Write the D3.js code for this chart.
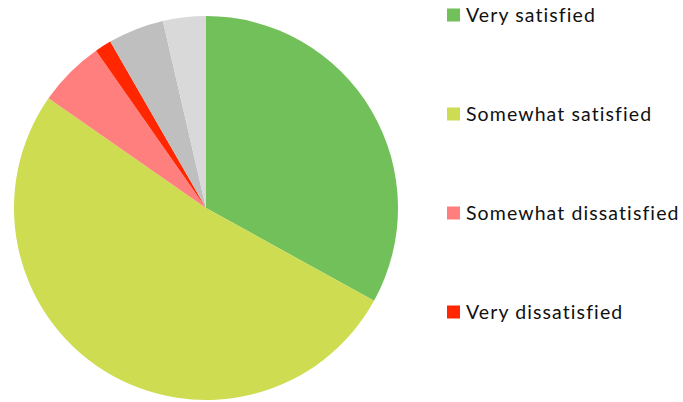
<!DOCTYPE html>
<html>
<head>
<meta charset="utf-8">
<script src="https://cdn.jsdelivr.net/npm/d3@7"></script>
<style>
  html, body { margin: 0; padding: 0; background: #fff; }
  svg { display: block; }
</style>
</head>
<body>
<svg id="chart" width="683" height="402"></svg>
<script>
// Survey responses, in drawing order (clockwise from 12 o'clock)
const categories = ["Very satisfied", "Somewhat satisfied", "Somewhat dissatisfied", "Very dissatisfied", "Neutral", "No answer"];
const values = [33.0, 51.6, 5.6, 1.4, 4.7, 3.6];
const colors = ["#71c05a", "#cddc50", "#ff7f7f", "#ff2600", "#bfbfbf", "#d9d9d9"];
// Only the first four categories appear in the legend
const legendItems = categories.slice(0, 4);

const svg = d3.select("#chart");
const cx = 206, cy = 208, r = 192;

const data = categories.map((c, i) => ({ name: c, value: values[i], color: colors[i] }));

const pie = d3.pie().value(d => d.value).sort(null);
const arc = d3.arc().innerRadius(0).outerRadius(r);

svg.append("g")
  .attr("transform", `translate(${cx},${cy})`)
  .selectAll("path")
  .data(pie(data))
  .join("path")
  .attr("d", arc)
  .attr("fill", d => d.data.color);

// Legend
const legendY = d3.scalePoint().domain(legendItems).range([15, 312]);
const legend = svg.append("g").attr("transform", "translate(447,0)");
const rows = legend.selectAll("g")
  .data(legendItems)
  .join("g")
  .attr("transform", d => `translate(0,${legendY(d)})`);

rows.append("rect")
  .attr("x", 0).attr("y", -6.5)
  .attr("width", 13).attr("height", 13)
  .attr("fill", (d, i) => colors[i]);

rows.append("text")
  .attr("x", 19).attr("y", 7)
  .attr("font-family", "Lato, 'Liberation Sans', sans-serif")
  .attr("font-size", 19.5)
  .attr("letter-spacing", 1.1)
  .attr("fill", "#111")
  .text(d => d);
</script>
</body>
</html>
